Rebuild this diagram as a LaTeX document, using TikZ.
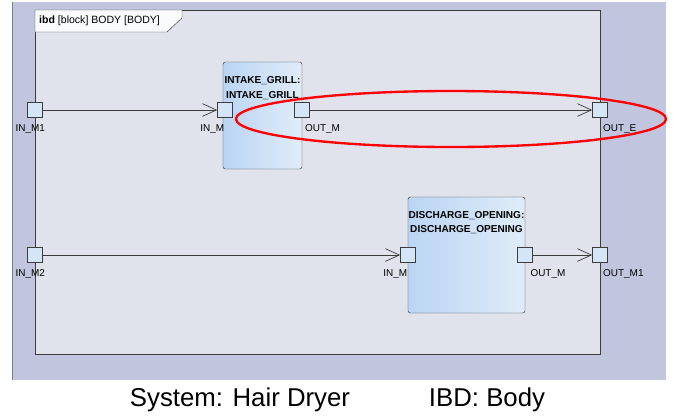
\documentclass[tikz,border=0pt]{standalone}
\usepackage{fontspec}
\setmainfont{Liberation Sans}
\usetikzlibrary{arrows.meta,positioning}
\definecolor{fon}{HTML}{C1C5DE}
\definecolor{ramkafon}{HTML}{E1E3EC}
\definecolor{linii}{HTML}{3C3C3C}
\definecolor{portfon}{HTML}{D4E5F8}
\definecolor{blokl}{HTML}{BAD5F3}
\definecolor{blokr}{HTML}{E0ECF9}

\begin{document}
\begin{tikzpicture}[
        x=0.03cm, y=-0.03cm, % координаты в пикселях, y вниз
        port/.style = {draw=linii, fill=portfon, minimum size=0.45cm, inner sep=0pt}, % порты
        plab/.style = {font=\fontsize{8.5}{10}\selectfont, inner sep=0.5pt},
        blok/.style = {draw=linii, rounded corners=2pt, left color=blokl, right color=blokr, inner sep=0pt},
        titl/.style = {font=\fontsize{8.6}{12.5}\selectfont\bfseries, align=center, inner sep=0pt},
        conn/.style = {draw=linii, line width=0.6pt, -{Straight Barb[length=0.42cm,width=0.38cm]}}, % связи
    ]
    \useasboundingbox (0,0) rectangle (673,417);

    % фон и рамка ibd
    \fill[fon] (12,2) rectangle (666,380);
    \draw[gray] (12,2) -- (12,380);
    \draw[linii, fill=ramkafon, line width=0.8pt] (35,10) rectangle (600,354);
    \draw[linii, fill=white!85!ramkafon] (35,10) -- (182,10) -- (182,18) -- (167,32) -- (35,32) -- cycle;
    \node[anchor=west, font=\fontsize{9}{10}\selectfont, inner sep=0pt] (ramka) at (39,21)
        {\textbf{ibd} [block] BODY [BODY]};

    % блоки
    \node[blok, minimum width=2.37cm, minimum height=3.21cm] (grill) at (262.5,115.5) {};
    \node[titl, below=0.44cm of grill.north] (grilltxt) {INTAKE\_GRILL:\\INTAKE\_GRILL};
    \node[blok, minimum width=3.51cm, minimum height=3.48cm] (disch) at (466.5,255) {};
    \node[titl, below=0.42cm of disch.north] (dischtxt) {DISCHARGE\_OPENING:\\DISCHARGE\_OPENING};

    % порты
    \node[port] (inm1) at (35,110) {};
    \node[port] (inmg) at (225,110) {};
    \node[port] (outmg) at (302,110) {};
    \node[port] (oute) at (600,110) {};
    \node[port] (inm2) at (35,255) {};
    \node[port] (inmd) at (408,255) {};
    \node[port] (outmd) at (525,255) {};
    \node[port] (outm1) at (600,255) {};

    \node[plab, below=5pt of inm1, xshift=-4] (linm1) {IN\_M1};
    \node[plab, below left=5pt and 0pt of inmg.south] (linmg) {IN\_M};
    \node[plab, below right=5pt and 2pt of outmg.south] (loutmg) {OUT\_M};
    \node[plab, below right=5pt and 2pt of oute.south] (loute) {OUT\_E};
    \node[plab, below=5pt of inm2, xshift=-4] (linm2) {IN\_M2};
    \node[plab, below left=5pt and 0pt of inmd.south] (linmd) {IN\_M};
    \node[plab, below right=5pt and 4pt of outmd.south] (loutmd) {OUT\_M};
    \node[plab, below right=5pt and 2pt of outm1.south] (loutm1) {OUT\_M1};

    % связи
    \draw[conn] (inm1) -- (inmg);
    \draw[conn] (outmg) -- (oute);
    \draw[conn] (inm2) -- (inmd);
    \draw[conn] (outmd) -- (outm1);

    % выделение
    \draw[red, line width=2pt] (451,119) ellipse [x radius=6.45cm, y radius=0.84cm];

    % подпись
    \node[font=\fontsize{22}{26}\selectfont] (sys) at (240,400) {System: Hair Dryer};
    \node[font=\fontsize{22}{26}\selectfont] (ibd) at (487,400) {IBD: Body};
\end{tikzpicture}
\end{document}
